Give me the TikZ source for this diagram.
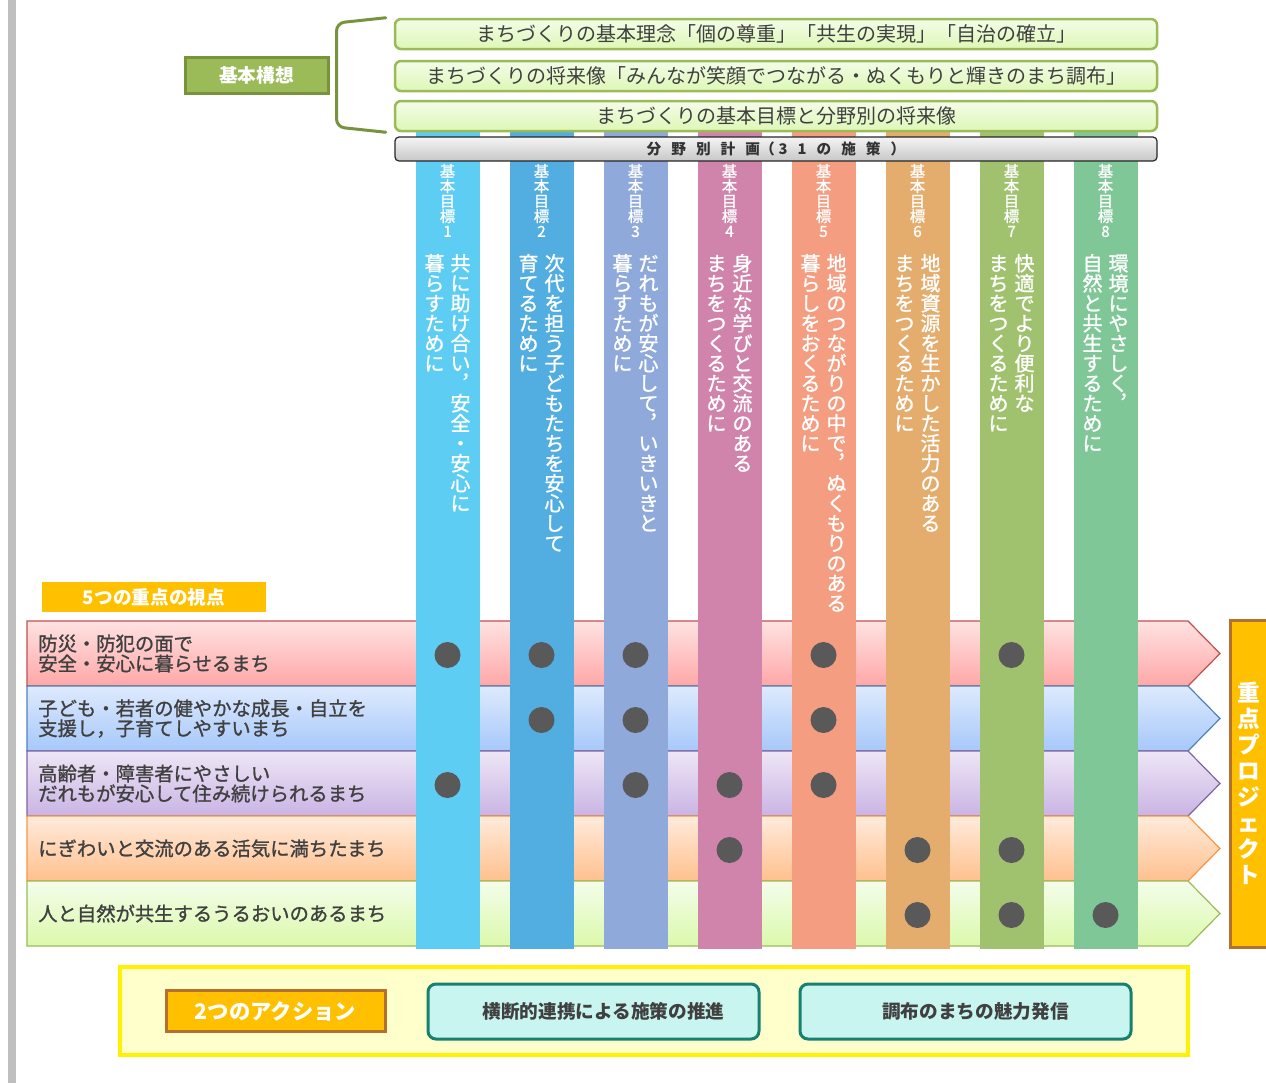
\documentclass[tikz,border=0pt]{standalone}
\usepackage{fontspec}
\setmainfont{Noto Sans CJK JP}
\newfontfamily\kkmid[FakeBold=1.2]{Noto Sans CJK JP}
\usetikzlibrary{calc}

\definecolor{kkgray}{HTML}{BFBFBF}
\definecolor{kkolive}{HTML}{77933C}
\definecolor{kklime}{HTML}{9BBB59}
\definecolor{kkleafA}{HTML}{F4FDE8}
\definecolor{kkleafB}{HTML}{DDF7B5}
\definecolor{kktext}{HTML}{404040}
\definecolor{kkdot}{HTML}{595959}
\definecolor{kkamber}{HTML}{FFC000}
\definecolor{kkrust}{HTML}{B5702F}
\definecolor{kkteal}{HTML}{178070}
\definecolor{kkmint}{HTML}{C9F5F0}
\definecolor{kkcream}{HTML}{FFFFCC}
\definecolor{goalA}{HTML}{5ECDF4}
\definecolor{goalB}{HTML}{52ADE0}
\definecolor{goalC}{HTML}{8EA9DA}
\definecolor{goalD}{HTML}{D083AB}
\definecolor{goalE}{HTML}{F49D80}
\definecolor{goalF}{HTML}{E5AD6D}
\definecolor{goalG}{HTML}{A0C26F}
\definecolor{goalH}{HTML}{7FC797}
\definecolor{laneRL}{HTML}{C0504D}
\definecolor{laneRT}{HTML}{FFE2E2}
\definecolor{laneRB}{HTML}{FFA7A7}
\definecolor{laneBL}{HTML}{4F81BD}
\definecolor{laneBT}{HTML}{DEEAFD}
\definecolor{laneBB}{HTML}{A6C8FA}
\definecolor{laneVL}{HTML}{8064A2}
\definecolor{laneVT}{HTML}{EEE6F6}
\definecolor{laneVB}{HTML}{C9B4E4}
\definecolor{laneOL}{HTML}{F79646}
\definecolor{laneOT}{HTML}{FFEBDB}
\definecolor{laneOB}{HTML}{FFC08E}
\definecolor{laneGL}{HTML}{9BBB59}
\definecolor{laneGT}{HTML}{F4FDEA}
\definecolor{laneGB}{HTML}{DBF9AC}

\newlength\pxl
\setlength\pxl{0.75pt}

\ExplSyntaxOn
\NewDocumentCommand\tatechar{m}{\str_if_eq:nnTF{#1}{，}{︐}{#1}}
\NewDocumentCommand\tate{O{15pt}m}
  {
    \tl_set:Nx \l_tmpa_tl {#2}
    \vtop
      {
        \lineskiplimit=-\maxdimen
        \baselineskip=#1\relax
        \tl_map_inline:Nn \l_tmpa_tl
          { \hbox to 1em { \hss \tatechar{##1} \hss } }
      }
  }
\NewDocumentCommand\spaced{mm}{\tl_map_inline:nn{#2}{##1\kern#1}\unkern}
\ExplSyntaxOff

\tikzset{
  topbox/.style={draw=kklime, line width=2.5\pxl, rounded corners=6\pxl,
    top color=kkleafA, bottom color=kkleafB, minimum width=762\pxl,
    minimum height=30\pxl, inner sep=0pt, text=kktext,
    font=\fontsize{15}{15}\selectfont},
  planbar/.style={draw=black!85, line width=1.2\pxl, rounded corners=4\pxl,
    top color=black!4, bottom color=black!22, minimum width=762\pxl,
    minimum height=24\pxl, inner sep=0pt, text=black!80,
    font=\bfseries\fontsize{11}{11}\selectfont},
  kihon/.style={draw=kkolive, line width=3\pxl, fill=kklime,
    minimum width=143\pxl, minimum height=36\pxl, text=white,
    font=\bfseries\fontsize{14}{14}\selectfont},
  kkbrace/.style={draw=kkolive, line width=3\pxl, rounded corners=8\pxl, line cap=round},
  lane/.style={draw=lane#1L, top color=lane#1T, bottom color=lane#1B, line width=1.2\pxl},
  lanetext/.style={anchor=west, align=left, inner sep=0pt, text=kktext,
    font=\kkmid\fontsize{14.5}{15}\selectfont},
  goal/.style={fill=#1, minimum width=64\pxl, minimum height=821\pxl, inner sep=0pt},
  goalno/.style={anchor=north, inner sep=0pt, text=white,
    font=\kkmid\fontsize{11.5}{11.5}\selectfont},
  goaltext/.style={anchor=north, inner sep=0pt, text=white,
    font=\kkmid\fontsize{15}{15}\selectfont},
  hitdot/.style={circle, fill=kkdot, minimum size=26\pxl, inner sep=0pt},
  viewlabel/.style={fill=kkamber, minimum width=224\pxl, minimum height=30\pxl,
    text=white, font=\bfseries\fontsize{14}{14}\selectfont},
  projbox/.style={draw=kkrust, line width=3\pxl, fill=kkamber, minimum width=38\pxl,
    minimum height=327\pxl, inner sep=0pt, text=white,
    font=\bfseries\fontsize{17}{17}\selectfont},
  actframe/.style={draw=yellow, line width=4\pxl, fill=kkcream,
    minimum width=1068\pxl, minimum height=88\pxl},
  actlabel/.style={draw=kkrust, line width=3\pxl, fill=kkamber, minimum width=219\pxl,
    minimum height=41\pxl, text=white, font=\bfseries\fontsize{16}{16}\selectfont},
  actbox/.style={draw=kkteal, line width=3\pxl, rounded corners=8\pxl, fill=kkmint,
    minimum width=331\pxl, minimum height=55\pxl, text=kktext,
    font=\bfseries\fontsize{14}{14}\selectfont}
}

\begin{document}
\begin{tikzpicture}[x=0.75pt, y=-0.75pt]
\useasboundingbox (0,0) rectangle (1266,1083);
\clip (0,0) rectangle (1266,1083);
\fill[kkgray] (8,0) rectangle (16,1083);

\foreach \r/\rc in {1/R,2/B,3/V,4/O,5/G}{
  \pgfmathsetmacro\yt{556+65*\r}
  \draw[lane=\rc] (27,\yt) -- (1188,\yt) -- (1220,\yt+32.5) -- (1188,\yt+65) -- (27,\yt+65) -- cycle;
  \coordinate (row\r) at (27,\yt+32.5);
}
\node[lanetext] (t1) at ($(row1)+(11,0)$) {防災・防犯の面で\\安全・安心に暮らせるまち};
\node[lanetext] (t2) at ($(row2)+(11,0)$) {子ども・若者の健やかな成長・自立を\\支援し，子育てしやすいまち};
\node[lanetext] (t3) at ($(row3)+(11,0)$) {高齢者・障害者にやさしい\\だれもが安心して住み続けられるまち};
\node[lanetext] (t4) at ($(row4)+(11,0)$) {にぎわいと交流のある活気に満ちたまち};
\node[lanetext] (t5) at ($(row5)+(11,0)$) {人と自然が共生するうるおいのあるまち};
\node[viewlabel] (vw) at (154,597) {5つの重点の視点};

\foreach \c/\gc/\ta/\tb in {1/goalA/共に助け合い，安全・安心に/暮らすために,
    2/goalB/次代を担う子どもたちを安心して/育てるために,
    3/goalC/だれもが安心して，いきいきと/暮らすために,
    4/goalD/身近な学びと交流のある/まちをつくるために,
    5/goalE/地域のつながりの中で，ぬくもりのある/暮らしをおくるために,
    6/goalF/地域資源を生かした活力のある/まちをつくるために,
    7/goalG/快適でより便利な/まちをつくるために,
    8/goalH/環境にやさしく，/自然と共生するために}{
  \node[goal=\gc] (g\c) at (353.5+94*\c, 538.5) {};
  \node[goalno] (n\c) at ($(g\c.north)+(0,36)$) {\tate[11.25pt]{基本目標\c}};
  \node[goaltext] (d\c) at ($(g\c.north)+(0,126)$) {\tate{\tb}\kern6\pxl\tate{\ta}};
}
\foreach \c/\r in {1/1,2/1,3/1,5/1,7/1,2/2,3/2,5/2,1/3,3/3,4/3,5/3,4/4,6/4,7/4,6/5,7/5,8/5}
  \node[hitdot] at ($(g\c |- row\r)+(0,1.5)$) {};

\node[projbox] (pj) at (1249,783.5) {\tate[19.5pt]{重点プロジェクト}};

\node[topbox] (v1) at (776,34) {まちづくりの基本理念「個の尊重」「共生の実現」「自治の確立」};
\node[topbox] (v2) at (776,76) {まちづくりの将来像「みんなが笑顔でつながる・ぬくもりと輝きのまち調布」};
\node[topbox] (v3) at (776,116) {まちづくりの基本目標と分野別の将来像};
\node[planbar] (plan) at (776,149)
  {\spaced{10\pxl}{分野別計画}（\kern4\pxl\spaced{10\pxl}{31の施策}\kern10\pxl）};
\node[kihon] (kk) at (256.5,75) {基本構想};
\draw[kkbrace] ($(v1.north west)+(-8,0)$) -- ($(kk.east)+(7,-52)$)
  -- ($(kk.east)+(7,52)$) -- ($(v3.south west)+(-8,0)$);

\node[actframe] (act) at (654,1011) {};
\node[actlabel] (al) at (275.5,1011) {2つのアクション};
\node[actbox] (a1) at (593.5,1011.5) {\hspace*{20\pxl}横断的連携による施策の推進};
\node[actbox] (a2) at (965.5,1011.5) {\hspace*{20\pxl}調布のまちの魅力発信};
\end{tikzpicture}
\end{document}
